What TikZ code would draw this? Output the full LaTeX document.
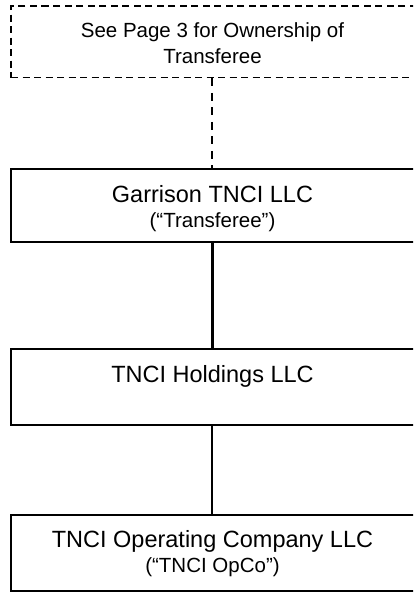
\documentclass[tikz,border=0pt]{standalone}
\usepackage{fontspec}
\setmainfont{Liberation Sans}
\begin{document}
\begin{tikzpicture}[x=1pt,y=-1pt,
  box/.style={draw=black, line width=2pt, rectangle, minimum width=420pt, inner sep=0pt, fill=white},
  dbox/.style={draw=black, line width=1.8pt, dash pattern=on 7pt off 4.5pt, rectangle, minimum width=420pt, inner sep=0pt},
  big/.style={font=\fontsize{23.5}{28}\selectfont, anchor=base, inner sep=0pt},
  small/.style={font=\fontsize{20.5}{25}\selectfont, anchor=base, inner sep=0pt}]
\clip (0,0) rectangle (413,592);
\useasboundingbox (0,0) rectangle (413,592);
\coordinate (sp) at (212,0);
% boxes
\node[dbox, minimum height=71.5pt] (top) at (221,41.75) {};
\node[box, minimum height=73pt] (gar) at (221,205.5) {};
\node[box, minimum height=76pt] (hold) at (221,387) {};
\node[box, minimum height=75.5pt] (opco) at (221,552.75) {};
% connectors
\draw[line width=2pt, dash pattern=on 8pt off 6.5pt] (top.south -| sp) -- (gar.north -| sp);
\draw[line width=3pt] (gar.south -| sp) -- (hold.north -| sp);
\draw[line width=1.5pt] (hold.south -| sp) -- (opco.north -| sp);
% texts
\node[small] (t1) at (212.5,37) {See Page 3 for Ownership of};
\node[small] (t2) at (212.5,63) {Transferee};
\node[big] (g1) at (212.5,202) {Garrison TNCI LLC};
\node[small] (g2) at (212.5,227) {(“Transferee”)};
\node[big] (h1) at (212.5,382) {TNCI Holdings LLC};
\node[big] (o1) at (212.5,547) {TNCI Operating Company LLC};
\node[small] (o2) at (212.5,572) {(“TNCI OpCo”)};
\end{tikzpicture}
\end{document}
